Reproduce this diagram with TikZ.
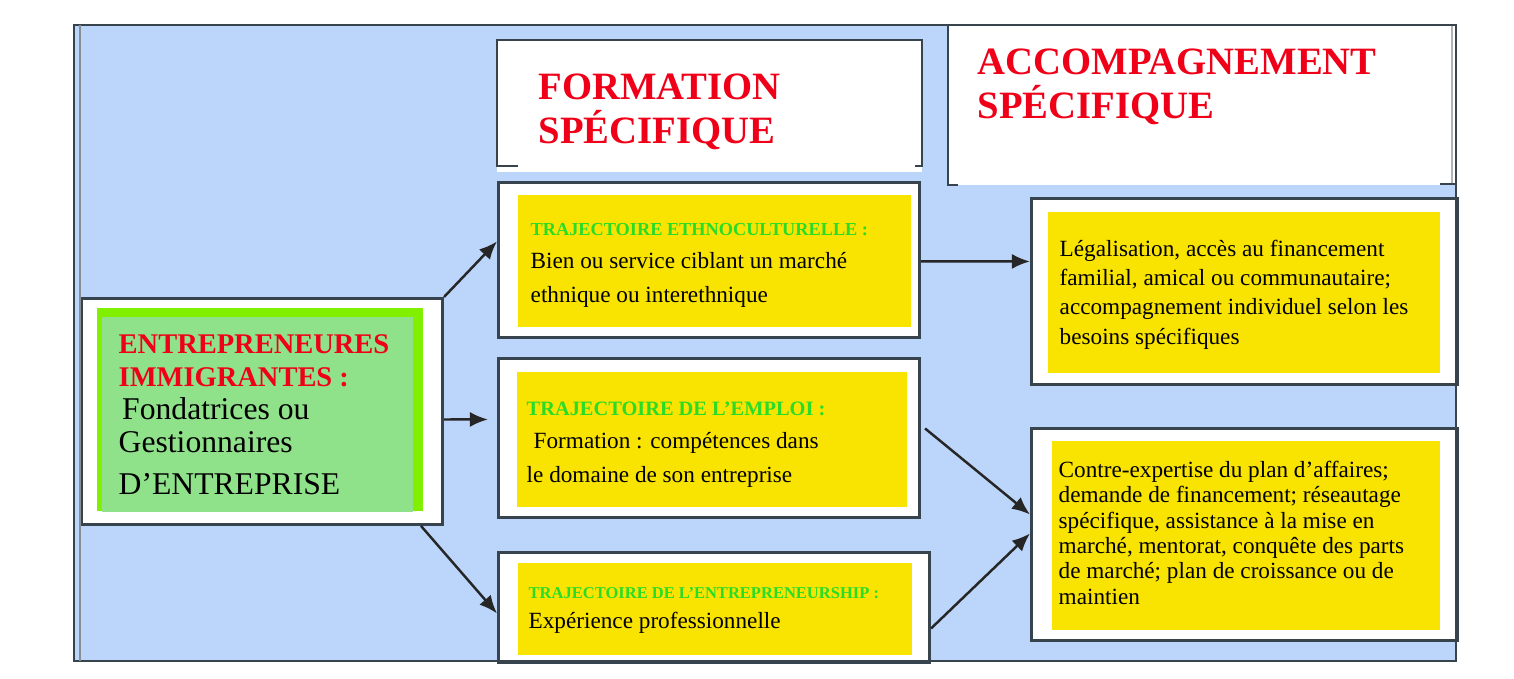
\documentclass[tikz,border=0pt]{standalone}
\usepackage{fontspec}
\setmainfont{Liberation Serif}
\usepackage{xcolor}
\usetikzlibrary{positioning, arrows.meta}

\definecolor{bgblue}{RGB}{187,214,250}
\definecolor{paneyellow}{RGB}{249,227,0}
\definecolor{softgreen}{RGB}{144,226,138}
\definecolor{brightgreen}{RGB}{128,240,0}
\definecolor{headred}{RGB}{240,0,24}
\definecolor{titlegreen}{RGB}{40,220,40}
\definecolor{edgegray}{RGB}{55,68,78}

\begin{document}
\begin{tikzpicture}[x=0.01cm, y=-0.01cm,
    box/.style={draw=edgegray, line width=0.8pt, fill=white, inner sep=0pt, anchor=north west},
    head/.style={text=headred, font=\fontsize{11}{12.5}\selectfont\bfseries, align=left, anchor=base west, inner sep=0pt},
    note/.style={font=\fontsize{6.6}{9.4}\selectfont, align=left, anchor=base west, inner sep=0pt},
    arr/.style={-{Latex[length=1.8mm,width=1.5mm]}, line width=0.7pt, draw=black!85}]
    \useasboundingbox (0,0) rectangle (1514,678);
    \fill[bgblue] (74,25) rectangle (1456,661);

    % Headers (text placed at the baseline of the last line)
    \fill[white] (497,40) rectangle (922,172);
    \draw[edgegray, line width=0.8pt] (518,166) -- (497,166) -- (497,40) -- (922,40) -- (922,166) -- (915,166);
    \node[head] (formhead) at (538,143) {FORMATION\\SPÉCIFIQUE};
    \fill[white] (948,25) rectangle (1456,185);
    \draw[edgegray, line width=0.8pt] (948,25) -- (948,185) -- (958,185);
    \draw[edgegray!40, line width=0.6pt] (1452,25) -- (1452,183);
    \draw[edgegray, line width=0.8pt] (1440,184) -- (1456,184);
    \node[head] (accohead) at (977,118) {ACCOMPAGNEMENT\\SPÉCIFIQUE};

    % Entrepreneures
    \node[box, minimum width=3.61cm, minimum height=2.26cm] (immig) at (80,297) {};
    \fill[brightgreen] (97,308) rectangle (423,511);
    \fill[softgreen] (102,317) rectangle (413,512);
    \node[note, font=\fontsize{9}{9.4}\selectfont] (immigtext) at (118,494)
        {{\color{headred}\bfseries\fontsize{8.1}{9.4}\selectfont ENTREPRENEURES}\\
         {\color{headred}\bfseries\fontsize{8.1}{9.4}\selectfont IMMIGRANTES :}\\
         \hspace*{1pt}Fondatrices ou\\Gestionnaires\\[2.4pt]D’ENTREPRISE};

    % Trajectoires
    \node[box, minimum width=4.21cm, minimum height=1.55cm] (ethno) at (497,181) {};
    \fill[paneyellow] (518,195) rectangle (911,327);
    \node[note] (ethnotext) at (530,302)
        {{\color{titlegreen}\bfseries\fontsize{5.2}{9.4}\selectfont TRAJECTOIRE ETHNOCULTURELLE :}\\
         Bien ou service ciblant un marché\\ethnique ou interethnique};

    \node[box, minimum width=4.21cm, minimum height=1.59cm] (emploi) at (497,357) {};
    \fill[paneyellow] (517,372) rectangle (907,507);
    \node[note] (emploitext) at (526,482)
        {{\color{titlegreen}\bfseries\fontsize{5.8}{9.4}\selectfont TRAJECTOIRE DE L’EMPLOI :}\\
         \hspace*{2pt}Formation : compétences dans\\le domaine de son entreprise};

    \node[box, minimum width=4.31cm, minimum height=1.10cm] (entre) at (497,551) {};
    \fill[paneyellow] (518,563) rectangle (912,655);
    \node[note, font=\fontsize{6.6}{8.3}\selectfont] (entretext) at (528,628)
        {{\color{titlegreen}\bfseries\fontsize{4.7}{8.3}\selectfont TRAJECTOIRE DE L’ENTREPRENEURSHIP :}\\
         Expérience professionnelle};

    % Accompagnement
    \node[box, minimum width=4.26cm, minimum height=1.86cm] (legal) at (1030,197) {};
    \fill[paneyellow] (1048,212) rectangle (1440,373);
    \node[note, font=\fontsize{6.6}{8.25}\selectfont] (legaltext) at (1059,344)
        {Légalisation, accès au financement\\familial, amical ou communautaire;\\
         accompagnement individuel selon les\\besoins spécifiques};

    \node[box, minimum width=4.26cm, minimum height=2.12cm] (contre) at (1030,427) {};
    \fill[paneyellow] (1052,441) rectangle (1440,630);
    \node[note, font=\fontsize{6.6}{7.2}\selectfont] (contretext) at (1058,604)
        {Contre-expertise du plan d’affaires;\\demande de financement; réseautage\\
         spécifique, assistance à la mise en\\marché, mentorat, conquête des parts\\
         de marché; plan de croissance ou de\\maintien};

    % Frame
    \draw[edgegray, line width=0.6pt] (74,25) rectangle (1456,661);
    \draw[edgegray!60, line width=0.6pt] (80,25) -- (80,661);

    % Edges
    \draw[arr] (immig.north east) -- ([yshift=0.185cm]ethno.west);
    \draw[arr] ([yshift=-0.08cm]immig.east) -- ([yshift=0.185cm, xshift=-0.09cm]emploi.west);
    \draw[arr] ([xshift=-0.23cm]immig.south east) -- ([yshift=-0.06cm]entre.west);
    \draw[arr] ([yshift=-0.015cm]ethno.east) -- ([yshift=0.30cm]legal.west);
    \draw[arr] ([yshift=0.095cm, xshift=0.04cm]emploi.east) -- ([yshift=0.20cm]contre.west);
    \draw[arr] ([yshift=-0.21cm]entre.east) -- ([yshift=0.01cm]contre.west);
\end{tikzpicture}
\end{document}
